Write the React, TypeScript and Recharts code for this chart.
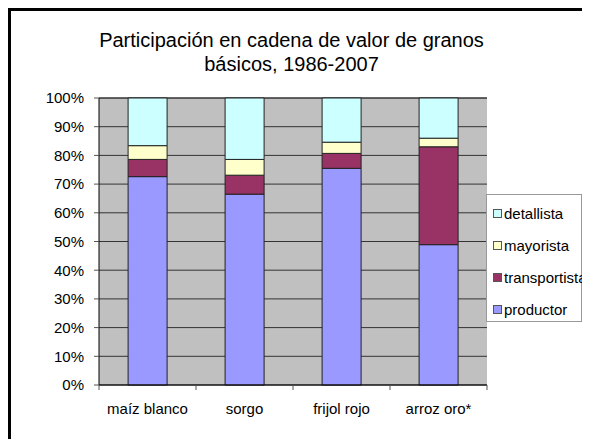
import { Bar, BarChart, CartesianGrid, Legend, XAxis, YAxis } from 'recharts'

const CATEGORIES = ['maíz blanco', 'sorgo', 'frijol rojo', 'arroz oro*']
const PRODUCTOR = [72.6, 66.5, 75.5, 48.9]
const TRANSPORTISTA = [6.0, 6.6, 5.2, 34.1]
const MAYORISTA = [4.8, 5.5, 3.9, 3.0]
const DETALLISTA = [16.6, 21.4, 15.4, 14.0]
const Y_TICKS = [0, 10, 20, 30, 40, 50, 60, 70, 80, 90, 100]
// category edges (integers) get a tick mark, category centres (halves) get the label
const X_TICKS = [0, 0.5, 1, 1.5, 2, 2.5, 3, 3.5, 4]

const SERIES = [
  { key: 'productor', color: '#9999ff' },
  { key: 'transportista', color: '#993366' },
  { key: 'mayorista', color: '#ffffcc' },
  { key: 'detallista', color: '#ccffff' },
]

const data = CATEGORIES.map((name, i) => ({
  name,
  pos: i + 0.5,
  productor: PRODUCTOR[i],
  transportista: TRANSPORTISTA[i],
  mayorista: MAYORISTA[i],
  detallista: DETALLISTA[i],
}))

const FONT = '"Liberation Sans", Arial, sans-serif'

function EdgeTick(props: any) {
  const { x, y, payload } = props
  const v = payload.value as number
  if (Number.isInteger(v)) {
    return <line x1={x} x2={x} y1={y} y2={y + 5} stroke="#555" />
  }
  return (
    <text x={x} y={y + 29} textAnchor="middle" fill="#000" fontSize={15} fontFamily={FONT}>
      {CATEGORIES[Math.floor(v)]}
    </text>
  )
}

function LegendBox() {
  return (
    <div
      style={{
        border: '1px solid #999',
        background: '#fff',
        width: 96,
        height: 128,
        boxSizing: 'border-box',
        paddingTop: 2,
        fontFamily: FONT,
        fontSize: 15,
        color: '#000',
      }}
    >
      {[...SERIES].reverse().map((s) => (
        <div key={s.key} style={{ display: 'flex', alignItems: 'center', height: 32, paddingLeft: 6, whiteSpace: 'nowrap' }}>
          <span
            style={{
              display: 'inline-block',
              flexShrink: 0,
              width: 7,
              height: 7,
              background: s.color,
              border: '1px solid #555',
              marginRight: 2,
            }}
          />
          <span>{s.key}</span>
        </div>
      ))}
    </div>
  )
}

export default function App() {
  return (
    <div style={{ position: 'relative', width: 582, height: 431, fontFamily: FONT, overflow: 'hidden' }}>
      <div
        style={{
          position: 'absolute',
          left: 0,
          top: 0,
          width: 600,
          height: 431,
          borderTop: '3px solid #000',
          borderLeft: '3px solid #000',
          boxSizing: 'border-box',
          pointerEvents: 'none',
          zIndex: 2,
        }}
      />
      <div
        style={{
          position: 'absolute',
          left: 0,
          width: 567,
          top: 20,
          textAlign: 'center',
          fontSize: 20,
          lineHeight: '24px',
          color: '#000',
        }}
      >
        Participación en cadena de valor de granos
        <br />
        básicos, 1986-2007
      </div>
      <BarChart
        width={582}
        height={431}
        data={data}
        margin={{ top: 90, right: 103, bottom: 18, left: 0 }}
        barCategoryGap="30%"
        style={{ position: 'absolute', left: 0, top: 0 }}
      >
        <CartesianGrid vertical={false} stroke="#333" fill="#c0c0c0" fillOpacity={1} />
        <XAxis dataKey="name" hide height={0} />
        <XAxis
          xAxisId="edge"
          type="number"
          dataKey="pos"
          domain={[0, 4]}
          ticks={X_TICKS}
          interval={0}
          tickSize={0}
          tickMargin={0}
          height={36}
          tickLine={false}
          axisLine={{ stroke: '#000' }}
          tick={<EdgeTick />}
        />
        <YAxis
          width={91}
          domain={[0, 100]}
          ticks={Y_TICKS}
          tickFormatter={(v: number) => `${v}%`}
          tickSize={5}
          tickMargin={10}
          interval={0}
          axisLine={{ stroke: '#000' }}
          tickLine={{ stroke: '#555' }}
          tick={{ fill: '#000', fontSize: 15, fontFamily: FONT }}
        />
        <Legend
          layout="horizontal"
          align="center"
          verticalAlign="middle"
          content={() => <LegendBox />}
          wrapperStyle={{ position: 'absolute', left: 478, top: 186, width: 96, height: 128 }}
        />
        {SERIES.map((s) => (
          <Bar
            key={s.key}
            dataKey={s.key}
            stackId="a"
            fill={s.color}
            stroke="#222"
            strokeWidth={1}
            isAnimationActive={false}
          />
        ))}
      </BarChart>
    </div>
  )
}
